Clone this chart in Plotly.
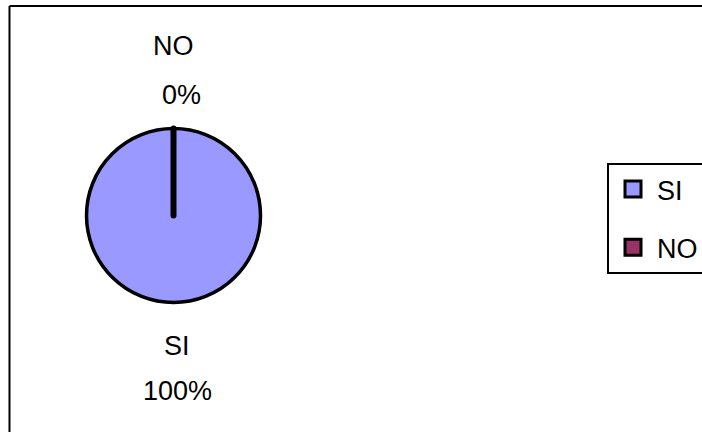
import plotly.graph_objects as go

# Survey answers
labels = ["SI", "NO"]
values = [100, 0]
colors = ["#9999FF", "#993366"]

FONT = "Arial, 'Liberation Sans', sans-serif"
W, H = 702, 432

total = sum(values)
percents = [round(v / total * 100) for v in values]

fig = go.Figure()

fig.add_trace(go.Pie(
    labels=labels,
    values=values,
    sort=False,
    direction="counterclockwise",
    rotation=0,
    textinfo="none",
    hoverinfo="label+percent",
    marker=dict(colors=colors, line=dict(color="black", width=[3.5, 6])),
    domain=dict(x=[0.1232, 0.3711], y=[0.2998, 0.7025]),
    showlegend=False,
))

# Legend entries (one group per answer so the rows can be spaced apart)
for lab, col in zip(labels, colors):
    fig.add_trace(go.Scatter(
        x=[None], y=[None], mode="markers", name=lab,
        legendgroup=lab,
        marker=dict(symbol="square", size=16, color=col,
                    line=dict(color="black", width=3)),
        hoverinfo="skip",
    ))

# Category / percentage labels, placed outside the pie
label_pos = {"NO": (173, 45.5, 181, 95), "SI": (177, 345.5, 177, 391)}
annotations = []
for lab, pct in zip(labels, percents):
    lx, ly, px, py = label_pos[lab]
    annotations.append(dict(x=lx / W, y=1 - ly / H, xref="paper", yref="paper",
                            text=lab, showarrow=False, xanchor="center",
                            yanchor="middle", font=dict(size=27, family=FONT, color="black")))
    annotations.append(dict(x=px / W, y=1 - py / H, xref="paper", yref="paper",
                            text=f"{pct}%", showarrow=False, xanchor="center",
                            yanchor="middle", font=dict(size=27, family=FONT, color="black")))

# Chart frame: left and top edges (the rest lies outside the view)
fx, fy = 9.5 / W, 1 - 6 / H
frame_lines = [
    dict(type="line", xref="paper", yref="paper", x0=fx, x1=fx, y0=-0.2, y1=fy,
         line=dict(color="black", width=2), layer="below"),
    dict(type="line", xref="paper", yref="paper", x0=fx, x1=1.2, y0=fy, y1=fy,
         line=dict(color="black", width=2), layer="below"),
]

fig.update_layout(
    width=W, height=H,
    margin=dict(l=0, r=0, t=0, b=0, autoexpand=False),
    paper_bgcolor="white",
    plot_bgcolor="white",
    xaxis=dict(visible=False),
    yaxis=dict(visible=False),
    font=dict(family=FONT, size=27, color="black"),
    annotations=annotations,
    legend=dict(
        x=607 / W, xanchor="left",
        y=1 - 163 / H, yanchor="top",
        bordercolor="black", borderwidth=2,
        bgcolor="white",
        font=dict(size=27, family=FONT, color="black"),
        tracegroupgap=20,
        traceorder="grouped",
        itemwidth=38,
    ),
    shapes=frame_lines,
)

fig.write_html("out.html")
